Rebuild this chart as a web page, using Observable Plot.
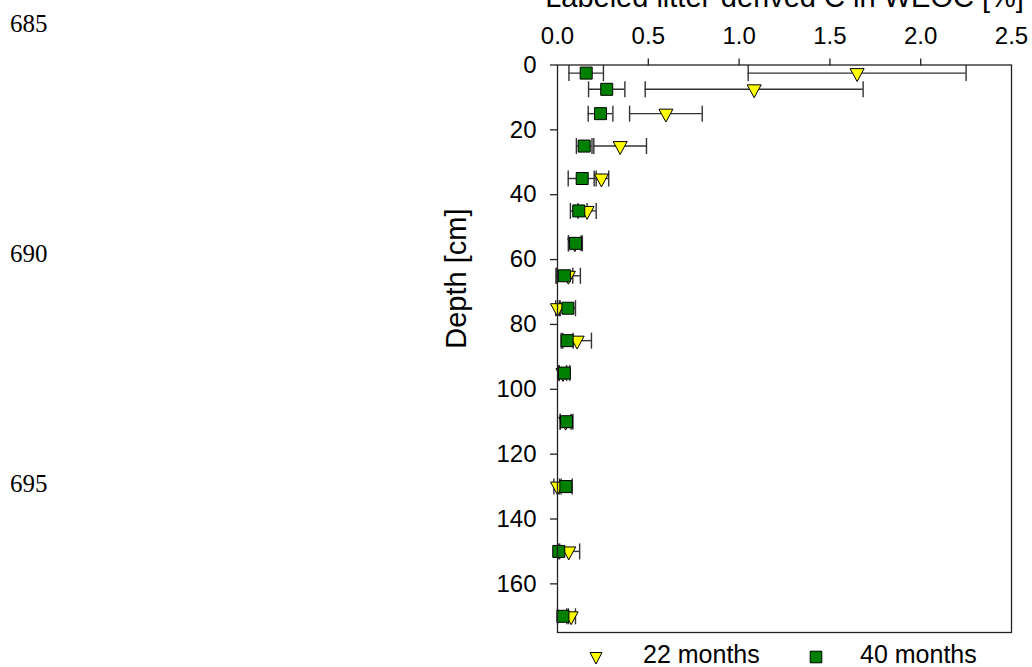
<!DOCTYPE html>
<html>
<head>
<meta charset="utf-8">
<script src="https://cdn.jsdelivr.net/npm/d3@7"></script>
<script src="https://cdn.jsdelivr.net/npm/@observablehq/plot@0.6"></script>
<style>
  html, body { margin: 0; padding: 0; background: #fff; }
  #wrap { position: relative; width: 1032px; height: 667px; overflow: hidden; font-family: "Liberation Sans", Arial, sans-serif; }
  .ln { position: absolute; left: 10px; font-family: "Liberation Serif", "Times New Roman", serif; font-size: 25px; line-height: 1; color: #000; }
  #legend { position: relative; width: 1032px; height: 27px; overflow: visible; }
  #legend .lab { position: absolute; top: 2px; font-size: 25px; line-height: 1; color: #000; white-space: nowrap; }
  #legend svg.sym { position: absolute; overflow: visible; }
</style>
</head>
<body>
<div id="wrap">
  <div id="chart"></div>
  <div id="legend"></div>
</div>
<script>
// ---- data ----
const depths = [2.5, 7.5, 15, 25, 35, 45, 55, 65, 75, 85, 95, 110, 130, 150, 170];
// 22 months (yellow triangles): mean and error (±)
const mean22 = [1.65, 1.083, 0.597, 0.345, 0.242, 0.163, 0.095, 0.06, 0.0, 0.108, 0.03, 0.045, 0.0, 0.062, 0.075];
const err22  = [0.60, 0.60, 0.20, 0.145, 0.04, 0.05, 0.035, 0.066, 0.01, 0.079, 0.02, 0.03, 0.02, 0.06, 0.024];
// 40 months (green squares)
const mean40 = [0.158, 0.271, 0.237, 0.147, 0.136, 0.117, 0.099, 0.038, 0.057, 0.053, 0.038, 0.05, 0.046, 0.007, 0.03];
const err40  = [0.095, 0.10, 0.068, 0.043, 0.077, 0.046, 0.038, 0.046, 0.042, 0.033, 0.03, 0.035, 0.035, 0.005, 0.03];

const xTickMarks = [0.5, 1.0, 1.5, 2.0];
const xTickLabels = [0, 0.5, 1.0, 1.5, 2.0, 2.5];
const yTicks = [0, 20, 40, 60, 80, 100, 120, 140, 160];
const xTitle = "Labeled litter-derived C in WEOC [%]";
const yTitle = "Depth [cm]";
const seriesNames = ["22 months", "40 months"];
const lineNumbers = ["685", "690", "695"];

// ---- build tables ----
const rows22 = depths.map((d, i) => ({depth: d, m: mean22[i], lo: mean22[i] - err22[i], hi: mean22[i] + err22[i]}));
const rows40 = depths.map((d, i) => ({depth: d, m: mean40[i], lo: mean40[i] - err40[i], hi: mean40[i] + err40[i]}));

// ---- custom symbols ----
const capSym = { draw(ctx, size) { const r = Math.sqrt(size / Math.PI); ctx.moveTo(0, -r); ctx.lineTo(0, r); } };
const triDown = { draw(ctx, size) { const r = Math.sqrt(size / Math.PI); ctx.moveTo(-r, -0.64 * r); ctx.lineTo(r, -0.64 * r); ctx.lineTo(0, 1.2 * r); ctx.closePath(); } };
const sqSym = { draw(ctx, size) { const r = Math.sqrt(size / Math.PI); ctx.moveTo(-r, -r); ctx.lineTo(r, -r); ctx.lineTo(r, r); ctx.lineTo(-r, r); ctx.closePath(); } };

const barColor = "#333";
const axisColor = "#222";
const font = "Liberation Sans, Arial, sans-serif";

const errMarks = (rows) => [
  Plot.ruleY(rows, {y: "depth", x1: "lo", x2: "hi", stroke: barColor, strokeWidth: 1.4}),
  Plot.dot(rows, {x: "lo", y: "depth", symbol: capSym, r: 8, stroke: barColor, strokeWidth: 1.4, fill: "none"}),
  Plot.dot(rows, {x: "hi", y: "depth", symbol: capSym, r: 8, stroke: barColor, strokeWidth: 1.4, fill: "none"})
];

const chart = Plot.plot({
  width: 1032,
  height: 640,
  marginTop: 64.5,
  marginLeft: 557,
  marginRight: 21,
  marginBottom: 8,
  style: {fontFamily: font, fontSize: "24px", color: "#000", background: "#fff", overflow: "hidden"},
  x: {domain: [0, 2.5]},
  y: {domain: [0, 175], reverse: true},
  marks: [
    Plot.axisX({anchor: "top", ticks: xTickMarks, tickSize: 7, text: null, label: null, stroke: axisColor, strokeWidth: 1.3}),
    Plot.axisX({anchor: "top", ticks: xTickLabels, tickSize: 0, tickPadding: 21, tickFormat: d3.format(".1f"), label: null, fontSize: 24, fill: "#000"}),
    Plot.axisY({anchor: "left", ticks: yTicks, tickSize: 7, tickPadding: 14, label: null, fontSize: 24, stroke: axisColor, strokeWidth: 1.3, fill: "#000"}),
    Plot.text([xTitle], {frameAnchor: "top", lineAnchor: "bottom", dy: -58, fontSize: 29, fill: "#000"}),
    Plot.text([yTitle], {frameAnchor: "left", rotate: -90, lineAnchor: "middle", dx: -101, fontSize: 29, fill: "#000"}),
    ...errMarks(rows22),
    ...errMarks(rows40),
    Plot.dot(rows22, {x: "m", y: "depth", symbol: triDown, r: 7, fill: "#ffff00", stroke: "#000", strokeWidth: 1}),
    Plot.dot(rows40, {x: "m", y: "depth", symbol: sqSym, r: 6, fill: "#008000", stroke: "#000", strokeWidth: 1}),
    Plot.frame({stroke: axisColor, strokeWidth: 1.3})
  ]
});
document.getElementById("chart").appendChild(chart);

// ---- manuscript line numbers ----
const lnTops = [11, 241, 471];
lineNumbers.forEach((t, i) => {
  const d = document.createElement("div");
  d.className = "ln";
  d.style.top = lnTops[i] + "px";
  d.textContent = t;
  document.getElementById("wrap").appendChild(d);
});

// ---- legend ----
const legend = document.getElementById("legend");
const ns = "http://www.w3.org/2000/svg";
function sym(kind, cx, top) {
  const s = document.createElementNS(ns, "svg");
  s.setAttribute("class", "sym");
  s.setAttribute("width", 14); s.setAttribute("height", 14);
  s.style.left = (cx - 7) + "px"; s.style.top = top + "px";
  const p = document.createElementNS(ns, "path");
  p.setAttribute("d", kind === "tri" ? "M1,1.5H13L7,13Z" : "M1.2,1.2H12.8V12.8H1.2Z");
  p.setAttribute("fill", kind === "tri" ? "#ffff00" : "#008000");
  p.setAttribute("stroke", "#000");
  p.setAttribute("stroke-width", 1);
  s.appendChild(p);
  legend.appendChild(s);
}
function lab(text, left) {
  const d = document.createElement("div");
  d.className = "lab"; d.style.left = left + "px"; d.textContent = text;
  legend.appendChild(d);
}
sym("tri", 596, 10.5); lab(seriesNames[0], 643);
sym("sq", 816, 9.5); lab(seriesNames[1], 860);
</script>
</body>
</html>
